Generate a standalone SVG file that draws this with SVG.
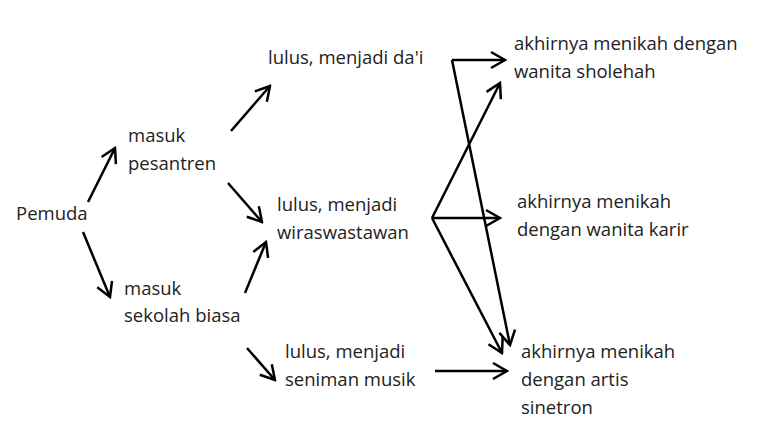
<svg xmlns="http://www.w3.org/2000/svg" width="760" height="429" viewBox="0 0 760 429">
<defs><marker id="a" viewBox="0 0 20 20" refX="18" refY="10" markerWidth="20" markerHeight="20" markerUnits="userSpaceOnUse" orient="auto"><path d="M4,2 L18,10 L4,18" fill="none" stroke="#000" stroke-width="2.5"/></marker></defs>
<style>text{font-family:"Open Sans","DejaVu Sans",sans-serif;font-size:18.5px;fill:#222}line{stroke:#000;stroke-width:2.5;marker-end:url(#a)}</style>
<rect width="760" height="429" fill="#fff"/>
<g id="pemuda"><text x="16" y="220">Pemuda</text></g>
<g id="pesantren"><text x="128" y="142">masuk</text><text x="128" y="170">pesantren</text></g>
<g id="sekolah"><text x="124" y="295">masuk</text><text x="124" y="322">sekolah biasa</text></g>
<g id="dai"><text x="268" y="64">lulus, menjadi da'i</text></g>
<g id="wira"><text x="277" y="211">lulus, menjadi</text><text x="277" y="239">wiraswastawan</text></g>
<g id="seniman"><text x="285" y="358">lulus, menjadi</text><text x="285" y="386">seniman musik</text></g>
<g id="sholehah"><text x="514" y="50">akhirnya menikah dengan</text><text x="514" y="78">wanita sholehah</text></g>
<g id="karir"><text x="517" y="208">akhirnya menikah</text><text x="517" y="236">dengan wanita karir</text></g>
<g id="artis"><text x="521" y="358">akhirnya menikah</text><text x="521" y="386">dengan artis</text><text x="521" y="414">sinetron</text></g>
<g id="connectors">
<line x1="88" y1="202" x2="115" y2="148"/>
<line x1="83" y1="232" x2="110" y2="297"/>
<line x1="231" y1="131" x2="270" y2="86"/>
<line x1="228" y1="183" x2="262" y2="222"/>
<line x1="245" y1="293" x2="266" y2="242"/>
<line x1="247" y1="348" x2="275" y2="380"/>
<line x1="452" y1="60" x2="505" y2="60"/>
<line x1="452" y1="60" x2="510" y2="345"/>
<line x1="432" y1="218" x2="500" y2="83"/>
<line x1="432" y1="218" x2="500" y2="218"/>
<line x1="432" y1="218" x2="502" y2="353"/>
<line x1="435" y1="371" x2="507" y2="371"/>
</g>
</svg>
